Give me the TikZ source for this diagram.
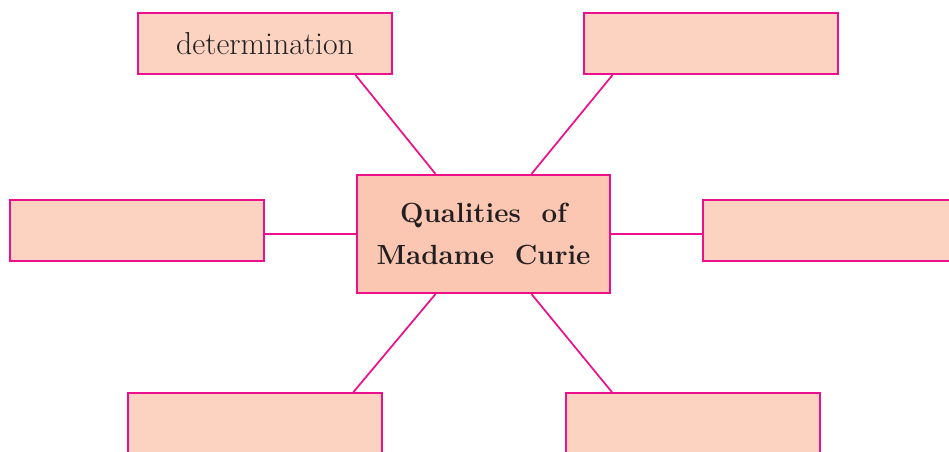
\documentclass[tikz,border=0pt]{standalone}
\usetikzlibrary{positioning}
\definecolor{rim}{RGB}{236,16,140}
\definecolor{boxfill}{RGB}{252,211,193}
\definecolor{midfill}{RGB}{251,199,178}
\definecolor{ink}{RGB}{35,31,32}

\begin{document}
\begin{tikzpicture}[x=0.75pt,y=-0.75pt,
        quality/.style={draw=rim,line width=1.6pt,fill=boxfill,rectangle,
            minimum width=190pt,minimum height=45.5pt,inner sep=0pt,
            text=ink,font=\fontsize{23.8}{28}\selectfont},
        hub/.style={quality,fill=midfill,minimum width=189.5pt,minimum height=88.5pt,
            align=center,font=\fontsize{20.8}{32}\selectfont\bfseries},
        spoke/.style={draw=rim,line width=1.3pt}]

    \useasboundingbox (0,0) rectangle (949,452);

    \node[hub] (Q) at (483.5,234) {Qualities\ \ of\\Madame\ \ Curie};
    \node[quality] (TL) at (265,43.5) {determination};
    \node[quality] (TR) at (711,43.5) {};
    \node[quality] (ML) at (137,230.5) {};
    \node[quality] (MR) at (830,230.5) {};
    \node[quality] (BL) at (255,423.5) {};
    \node[quality] (BR) at (693,423.5) {};

    \path[spoke] ([xshift=-28pt]TL.south east) -- ([xshift=-36pt]Q.north);
    \path[spoke] ([xshift=22pt]TR.south west) -- ([xshift=36pt]Q.north);
    \path[spoke] (Q.west) -- (Q.west -| ML.east);
    \path[spoke] (Q.east) -- (Q.east -| MR.west);
    \path[spoke] ([xshift=-36pt]Q.south) -- ([xshift=-22pt]BL.north east);
    \path[spoke] ([xshift=36pt]Q.south) -- ([xshift=35pt]BR.north west);

\end{tikzpicture}
\end{document}
